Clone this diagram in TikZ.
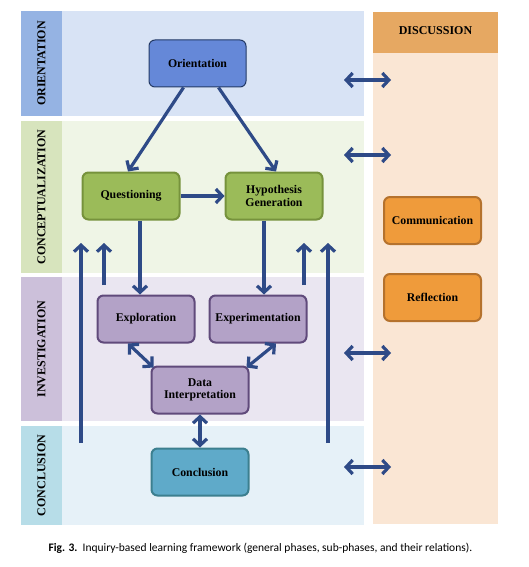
\documentclass[tikz,border=0pt]{standalone}
\usepackage{fontspec}
\setmainfont{Liberation Serif}
\newfontfamily\capfont{Carlito}
\usetikzlibrary{arrows.meta, positioning}

\definecolor{arrowblue}{HTML}{2E4A87}
\definecolor{oriStrip}{HTML}{95B3E3}
\definecolor{oriBody}{HTML}{D8E3F5}
\definecolor{conStrip}{HTML}{D7E4BD}
\definecolor{conBody}{HTML}{EFF5E6}
\definecolor{invStrip}{HTML}{CCC0DA}
\definecolor{invBody}{HTML}{EAE6F1}
\definecolor{cloStrip}{HTML}{B7DDE8}
\definecolor{cloBody}{HTML}{E6F1F8}
\definecolor{disHead}{HTML}{E6A862}
\definecolor{disBody}{HTML}{FAE6D4}
\definecolor{oriFill}{HTML}{6588D8}
\definecolor{oriLine}{HTML}{233A66}
\definecolor{conFill}{HTML}{9BBB59}
\definecolor{conLine}{HTML}{76923C}
\definecolor{invFill}{HTML}{B3A2C7}
\definecolor{invLine}{HTML}{604A7B}
\definecolor{cloFill}{HTML}{5FAAC9}
\definecolor{cloLine}{HTML}{3C7F8F}
\definecolor{disFill}{HTML}{EF9B3B}
\definecolor{disLine}{HTML}{B5722D}

\begin{document}
\begin{tikzpicture}[x=1pt, y=-1pt,
    phase/.style={draw, rounded corners=6pt, minimum width=97pt, minimum height=47pt,
        align=center, line width=2pt, font=\fontsize{11.8}{12.5}\selectfont\bfseries},
    stage/.style={rotate=90, font=\fontsize{12}{12}\selectfont\bfseries},
    flow/.style={draw=arrowblue, line width=3.2pt, -{Straight Barb[length=6.5pt,width=14pt]}},
    twoway/.style={draw=arrowblue, line width=3.2pt, {Straight Barb[length=6.5pt,width=14pt]}-{Straight Barb[length=6.5pt,width=14pt]}}]

    \useasboundingbox (0,0) rectangle (528,567);

    % phase bands
    \fill[oriStrip] (21,11) rectangle (62,116);
    \fill[oriBody] (62,11) rectangle (364,116);
    \fill[conStrip] (21,121) rectangle (62,273);
    \fill[conBody] (62,121) rectangle (364,273);
    \fill[invStrip] (21,277) rectangle (62,421);
    \fill[invBody] (62,277) rectangle (364,421);
    \fill[cloStrip] (21,426) rectangle (62,525);
    \fill[cloBody] (62,426) rectangle (364,525);
    \fill[disBody] (373,12) rectangle (498,524);
    \fill[disHead] (373,12) rectangle (498,53);

    \node[stage] (lblOri) at (41.5,63.5) {ORIENTATION};
    \node[stage] (lblCon) at (41.5,197) {CONCEPTUALIZATION};
    \node[stage] (lblInv) at (41.5,349) {INVESTIGATION};
    \node[stage] (lblClo) at (41.5,475.5) {CONCLUSION};
    \node[font=\fontsize{12}{12}\selectfont\bfseries] (lblDis) at (435.5,31) {DISCUSSION};

    % sub-phases
    \node[phase, fill=oriFill, draw=oriLine, line width=1pt] (orient) at (197.5,63.5) {Orientation};
    \node[phase, fill=conFill, draw=conLine] (quest) at (131,196) {Questioning};
    \node[phase, fill=conFill, draw=conLine] (hypo) at (274,196) {Hypothesis\\Generation};
    \node[phase, fill=invFill, draw=invLine] (explor) at (146,319) {Exploration};
    \node[phase, fill=invFill, draw=invLine] (expt) at (258,319) {Experimentation};
    \node[phase, fill=invFill, draw=invLine] (data) at (200,390) {Data\\Interpretation};
    \node[phase, fill=cloFill, draw=cloLine] (concl) at (200,472) {Conclusion};
    \node[phase, fill=disFill, draw=disLine] (comm) at (432.5,220.5) {Communication};
    \node[phase, fill=disFill, draw=disLine] (refl) at (432.5,297.5) {Reflection};

    % relations
    \draw[flow] ([xshift=-14pt]orient.south) -- ([xshift=-3pt]quest.north);
    \draw[flow] ([xshift=21pt]orient.south) -- ([xshift=2pt]hypo.north);
    \draw[flow] (quest) -- (hypo);
    \draw[flow] ([xshift=9pt]quest.south) -- ([xshift=9pt]quest.south |- explor.north);
    \draw[flow] ([xshift=-10pt]hypo.south) -- ([xshift=-10pt]hypo.south |- expt.north);
    \draw[twoway] ([xshift=-18pt]explor.south) -- ([xshift=3pt,yshift=-2pt]data.north west);
    \draw[twoway] ([xshift=18pt]expt.south) -- ([xshift=-3pt,yshift=-2pt]data.north east);
    \draw[twoway] (data) -- (concl);

    % feedback lines
    \coordinate (fbA) at (81,443);
    \coordinate (fbB) at (104,285);
    \coordinate (fbC) at (304,285);
    \coordinate (fbD) at (328,443);
    \foreach \p in {fbA,fbB,fbC,fbD}
        \draw[flow] (\p) -- (\p |- 0,243);

    % links to discussion
    \foreach \y [count=\i] in {80,155,353,467} {
        \coordinate (dL\i) at (344,\y);
        \coordinate (dR\i) at (391,\y);
        \draw[twoway] (dL\i) -- (dR\i);
    }

    \node[font=\capfont\fontsize{11.5}{12}\selectfont, anchor=west] (caption) at (45,548)
        {\textbf{Fig. 3.}\ \ Inquiry-based learning framework (general phases, sub-phases, and their relations).};
\end{tikzpicture}
\end{document}
